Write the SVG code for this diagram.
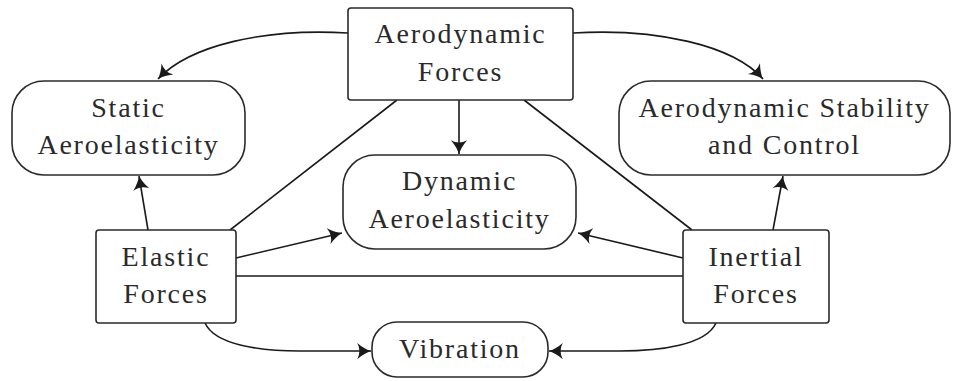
<svg xmlns="http://www.w3.org/2000/svg" width="959" height="381" viewBox="0 0 959 381">
<style>
.box{fill:#fff;stroke:#2a2a2a;stroke-width:1.6}
.t{font-family:"Liberation Serif","Times New Roman",serif;font-size:28px;letter-spacing:1.8px;fill:#2a2a2a;text-anchor:middle}
.c{fill:none;stroke:#1a1a1a;stroke-width:1.6}
</style>
<defs>
<marker id="ah" markerUnits="userSpaceOnUse" markerWidth="20" markerHeight="20" viewBox="-12 -8 14 16" refX="0" refY="0" orient="auto">
<path d="M0,0 C-3,-1 -7,-3 -11,-6.5 Q-7.5,0 -11,6.5 C-7,3 -3,1 0,0 Z" fill="#1a1a1a"/>
</marker>
</defs>
<rect width="959" height="381" fill="#fff"/>
<g id="connectors">
<path class="c" d="M348,33 C265,28 190,45 158,79" marker-end="url(#ah)"/>
<path class="c" d="M573,33 C656,28 733,45 763,79" marker-end="url(#ah)"/>
<path class="c" d="M459,100 L459,154" marker-end="url(#ah)"/>
<path class="c" d="M397,100 L230,230"/>
<path class="c" d="M524,100 L692,230"/>
<path class="c" d="M148,230 L139,176" marker-end="url(#ah)"/>
<path class="c" d="M236,258 L342,233" marker-end="url(#ah)"/>
<path class="c" d="M683,258 L578,233" marker-end="url(#ah)"/>
<path class="c" d="M236,276 L683,276"/>
<path class="c" d="M773,230 L783,176" marker-end="url(#ah)"/>
<path class="c" d="M205,323 C215,345 260,351 300,351 L371,351" marker-end="url(#ah)"/>
<path class="c" d="M716,323 C706,345 660,351 620,351 L549,351" marker-end="url(#ah)"/>
</g>
<g id="aero-forces">
<rect class="box" x="348" y="8" width="225" height="92" rx="3"/>
<text class="t" x="460.5" y="43">Aerodynamic</text>
<text class="t" x="460.5" y="81">Forces</text>
</g>
<g id="static-aero">
<rect class="box" x="12" y="81" width="233" height="94" rx="32"/>
<text class="t" x="128.5" y="117">Static</text>
<text class="t" x="128.5" y="154">Aeroelasticity</text>
</g>
<g id="stability">
<rect class="box" x="619" y="81" width="331" height="94" rx="32"/>
<text class="t" x="784.5" y="117">Aerodynamic Stability</text>
<text class="t" x="784.5" y="154">and Control</text>
</g>
<g id="dynamic-aero">
<rect class="box" x="343" y="155" width="233" height="94" rx="32"/>
<text class="t" x="459.5" y="190">Dynamic</text>
<text class="t" x="459.5" y="228">Aeroelasticity</text>
</g>
<g id="elastic">
<rect class="box" x="96" y="230" width="140" height="93" rx="3"/>
<text class="t" x="166" y="266">Elastic</text>
<text class="t" x="166" y="303">Forces</text>
</g>
<g id="inertial">
<rect class="box" x="683" y="230" width="146" height="93" rx="3"/>
<text class="t" x="756" y="266">Inertial</text>
<text class="t" x="756" y="303">Forces</text>
</g>
<g id="vibration">
<rect class="box" x="372" y="322" width="176" height="55" rx="25"/>
<text class="t" x="460" y="358">Vibration</text>
</g>
</svg>
